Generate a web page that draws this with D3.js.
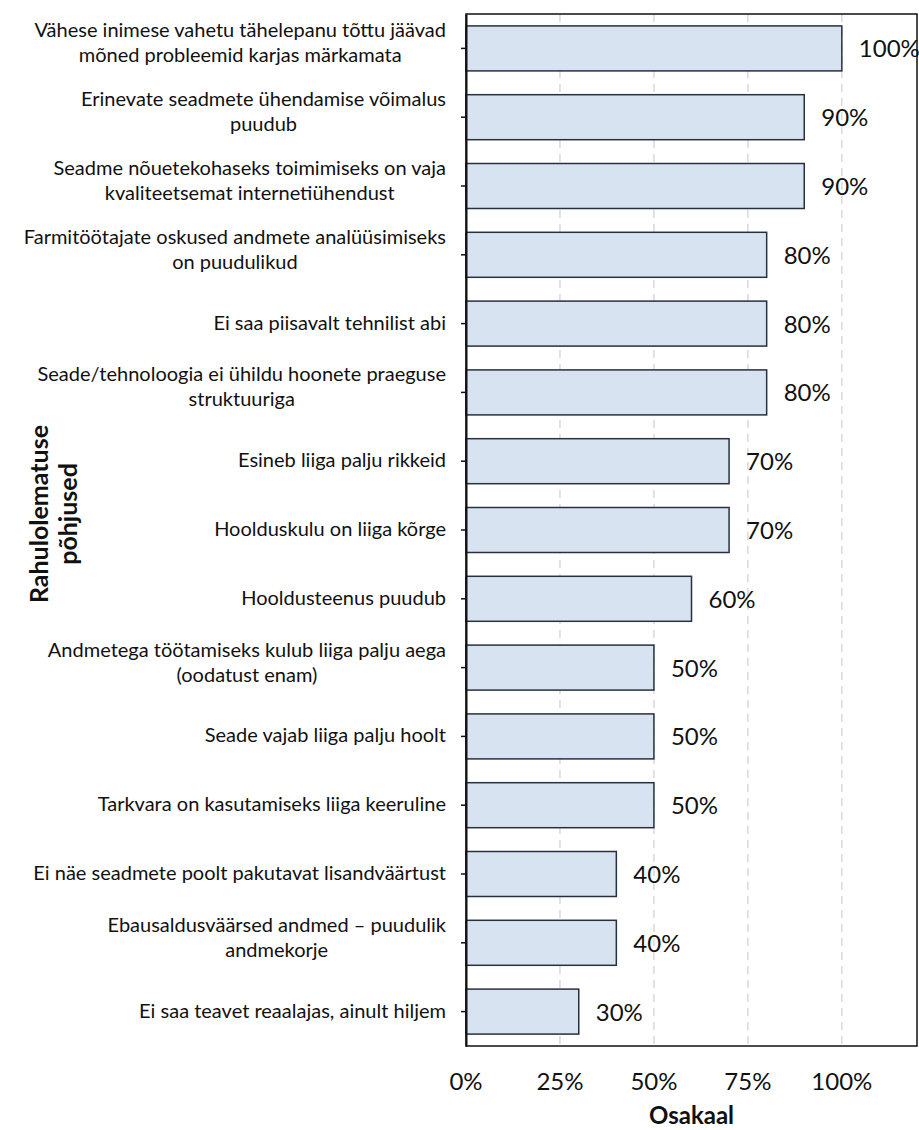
<!DOCTYPE html>
<html>
<head>
<meta charset="utf-8">
<script src="https://cdn.jsdelivr.net/npm/d3@7"></script>
<style>
  html, body { margin: 0; padding: 0; background: #fff; }
  svg { display: block; font-family: Lato, "Open Sans", sans-serif; }
</style>
</head>
<body>
<svg id="chart" width="919" height="1130"></svg>
<script>
// Reasons for dissatisfaction ("\n" marks where a label wraps)
const categories = [
  "Vähese inimese vahetu tähelepanu tõttu jäävad\nmõned probleemid karjas märkamata",
  "Erinevate seadmete ühendamise võimalus\npuudub",
  "Seadme nõuetekohaseks toimimiseks on vaja\nkvaliteetsemat internetiühendust",
  "Farmitöötajate oskused andmete analüüsimiseks\non puudulikud",
  "Ei saa piisavalt tehnilist abi",
  "Seade/tehnoloogia ei ühildu hoonete praeguse\nstruktuuriga",
  "Esineb liiga palju rikkeid",
  "Hoolduskulu on liiga kõrge",
  "Hooldusteenus puudub",
  "Andmetega töötamiseks kulub liiga palju aega\n(oodatust enam)",
  "Seade vajab liiga palju hoolt",
  "Tarkvara on kasutamiseks liiga keeruline",
  "Ei näe seadmete poolt pakutavat lisandväärtust",
  "Ebausaldusväärsed andmed – puudulik\nandmekorje",
  "Ei saa teavet reaalajas, ainult hiljem"
];
// Share of respondents (fraction)
const shares = [1.0, 0.9, 0.9, 0.8, 0.8, 0.8, 0.7, 0.7, 0.6, 0.5, 0.5, 0.5, 0.4, 0.4, 0.3];
const xTicks = [0, 0.25, 0.5, 0.75, 1.0];
const xTitle = "Osakaal";
const yTitle = ["Rahulolematuse", "põhjused"];

const svg = d3.select("#chart");
const plot = { left: 466, right: 917, top: 14, bottom: 1046 };

const x = d3.scaleLinear().domain([0, 1.2]).range([plot.left, plot.right]);
const y = d3.scaleBand().domain(categories).range([plot.top, plot.bottom])
  .paddingInner(0.346).paddingOuter(0.173);
const pct = d3.format(".0%");

// dashed vertical gridlines
svg.append("g").selectAll("line").data(xTicks.filter(d => d > 0)).join("line")
  .attr("x1", d => x(d)).attr("x2", d => x(d))
  .attr("y1", plot.top).attr("y2", plot.bottom)
  .attr("stroke", "#d9d9d9").attr("stroke-width", 1.5)
  .attr("stroke-dasharray", "8,6");

// bars
svg.append("g").selectAll("rect").data(shares).join("rect")
  .attr("x", x(0))
  .attr("y", (d, i) => y(categories[i]))
  .attr("width", d => x(d) - x(0))
  .attr("height", y.bandwidth())
  .attr("fill", "#d8e3f2")
  .attr("stroke", "#26313f").attr("stroke-width", 1.5);

// value labels
svg.append("g").selectAll("text").data(shares).join("text")
  .attr("x", d => x(d) + 17)
  .attr("y", (d, i) => y(categories[i]) + y.bandwidth() / 2 + 9)
  .attr("font-size", 24).attr("fill", "#111")
  .text(d => pct(d));

// plot frame
svg.append("rect")
  .attr("x", plot.left).attr("y", plot.top)
  .attr("width", plot.right - plot.left).attr("height", plot.bottom - plot.top)
  .attr("fill", "none").attr("stroke", "#111").attr("stroke-width", 1.5);

// left axis with outward ticks; labels drawn separately so they can wrap
const yAxis = svg.append("g").attr("transform", `translate(${plot.left},0)`)
  .call(d3.axisLeft(y).tickSize(5).tickSizeOuter(0).tickFormat(""));
yAxis.select(".domain").attr("stroke", "#111").attr("stroke-width", 2);
yAxis.selectAll(".tick line").attr("stroke", "#111").attr("stroke-width", 1.5);

// wrapped category labels, lines centred on one another, block right-aligned
const labelRight = 446, lineH = 25;
const labels = svg.append("g").attr("font-size", 20).attr("fill", "#111");
categories.forEach(c => {
  const lines = c.split("\n");
  const n = lines.length;
  const g = labels.append("g");
  const cy = y(c) + y.bandwidth() / 2;
  const ts = lines.map((ln, i) => g.append("text")
    .attr("y", cy + 6 + (i - (n - 1) / 2) * lineH - (n - 1) * 4.5)
    .text(ln));
  const w = d3.max(ts, t => t.node().getComputedTextLength());
  ts.forEach(t => t.attr("x", labelRight - w / 2).attr("text-anchor", "middle"));
});

// x tick labels
svg.append("g").selectAll("text").data(xTicks).join("text")
  .attr("x", d => x(d)).attr("y", 1090)
  .attr("text-anchor", "middle").attr("font-size", 24).attr("fill", "#111")
  .text(d => pct(d));

// axis titles
svg.append("text")
  .attr("x", (plot.left + plot.right) / 2).attr("y", 1124)
  .attr("text-anchor", "middle").attr("font-size", 24).attr("font-weight", "bold")
  .attr("fill", "#111").text(xTitle);

const yt = svg.append("text")
  .attr("transform", "translate(48,514) rotate(-90)")
  .attr("text-anchor", "middle").attr("font-size", 25).attr("font-weight", "bold")
  .attr("fill", "#111");
yTitle.forEach((t, i) => yt.append("tspan").attr("x", 0).attr("y", i * 29).text(t));
</script>
</body>
</html>
